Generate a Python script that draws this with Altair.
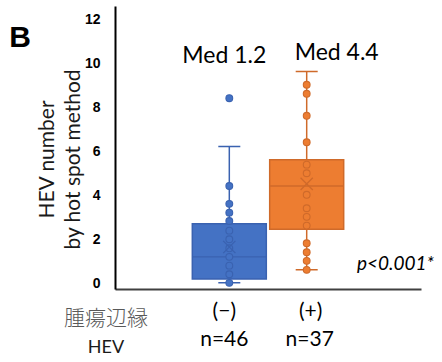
import altair as alt
import pandas as pd

# ---- data ----
groups = ["(−)", "(+)"]
group_idx = [1, 2]
n_labels = ["n=46", "n=37"]
med_labels = ["Med 1.2", "Med 4.4"]
q1 = [0.23, 2.48]
median = [1.23, 4.45]
q3 = [2.73, 5.64]
whisk_lo = [0.05, 0.64]
whisk_hi = [6.24, 9.65]
means = [1.68, 4.55]
neg_points = [8.44, 4.45, 3.64, 3.24, 2.86, 2.42, 2.03, 1.62, 1.23, 0.83, 0.44, 0.05]
pos_points = [9.05, 8.64, 7.64, 6.44, 5.42, 5.03, 4.05, 3.44, 3.05, 2.65, 1.85, 1.44, 1.05, 0.64]
y_ticks = [0, 2, 4, 6, 8, 10, 12]

summary = pd.DataFrame({
    "group": groups, "idx": group_idx, "n": n_labels, "med_label": med_labels,
    "q1": q1, "median": median, "q3": q3, "lo": whisk_lo, "hi": whisk_hi, "mean": means,
})
points = pd.DataFrame({
    "group": [groups[0]] * len(neg_points) + [groups[1]] * len(pos_points),
    "idx": [group_idx[0]] * len(neg_points) + [group_idx[1]] * len(pos_points),
    "value": neg_points + pos_points,
})

FILL = ["#4472C4", "#ED7D31"]
DARK = ["#3A62B0", "#CF6A2A"]
FONT = "Lato"

xscale = alt.Scale(domain=[-0.4125, 3.4125], nice=False, zero=False)
yscale = alt.Scale(domain=[-0.23, 12.63], nice=False, zero=False)

x_axis = alt.Axis(labels=False, ticks=False, title=None, grid=False,
                  domainColor="#404040", domainWidth=2)
y_axis = alt.Axis(values=y_ticks, ticks=False, grid=False, labelFont="Liberation Sans",
                  labelFontWeight="bold", labelFontSize=14, labelColor="#000000",
                  labelPadding=15, domainColor="#000000", domainWidth=2,
                  title=["HEV number", "by hot spot method"], titleFont=FONT,
                  titleFontSize=21, titleFontWeight="normal", titleColor="#1a1a1a",
                  titleLineHeight=26, titlePadding=1, titleY=153)

X = alt.X("idx:Q", scale=xscale, axis=x_axis)
fill = alt.Fill("group:N", scale=alt.Scale(domain=groups, range=FILL), legend=None)
stroke = alt.Stroke("group:N", scale=alt.Scale(domain=groups, range=DARK), legend=None)

base = alt.Chart(summary)

whisker = base.mark_rule(strokeWidth=1.5).encode(
    x=X, y=alt.Y("lo:Q", scale=yscale, axis=y_axis), y2="hi:Q", stroke=stroke)
cap_lo = base.mark_bar(size=22, strokeWidth=1.5).encode(
    x=X, y=alt.Y("lo:Q", scale=yscale, axis=y_axis), y2="lo:Q", stroke=stroke)
cap_hi = base.mark_bar(size=22, strokeWidth=1.5).encode(
    x=X, y=alt.Y("hi:Q", scale=yscale, axis=y_axis), y2="hi:Q", stroke=stroke)
box = base.mark_bar(size=74, strokeWidth=1.5).encode(
    x=X, y=alt.Y("q1:Q", scale=yscale, axis=y_axis), y2="q3:Q", fill=fill, stroke=stroke)
med_line = base.mark_bar(size=74, strokeWidth=1.3).encode(
    x=X, y=alt.Y("median:Q", scale=yscale, axis=y_axis), y2="median:Q", stroke=stroke)
pts = alt.Chart(points).mark_point(filled=True, size=46, strokeWidth=1.1, opacity=1).encode(
    x=X, y=alt.Y("value:Q", scale=yscale, axis=y_axis), fill=fill, stroke=stroke)
mean_x = base.mark_point(shape="M-1,-1L1,1M1,-1L-1,1", size=150, filled=False,
                         strokeWidth=1.3, opacity=1).encode(
    x=X, y=alt.Y("mean:Q", scale=yscale, axis=y_axis), stroke=stroke)


def group_text(field, idx, ypix, dx, size):
    return base.transform_filter(f"datum.idx == {idx}").mark_text(
        font=FONT, fontSize=size, color="#000000", baseline="middle", dx=dx
    ).encode(x=X, y=alt.value(ypix), text=f"{field}:N")


texts = [
    group_text("med_label", 1, 50, -5, 23),
    group_text("med_label", 2, 47, 30, 23),
    group_text("group", 1, 306, -5, 21),
    group_text("group", 2, 306, 4, 21),
    group_text("n", 1, 334, -5, 21),
    group_text("n", 2, 334, 3, 21),
]

ann = pd.DataFrame({"t": ["x"]})
letter = alt.Chart(ann).mark_text(text="B", font="Liberation Sans", fontWeight="bold",
                                  fontSize=30, color="#000000", baseline="middle",
                                  align="center").encode(x=alt.value(-95), y=alt.value(32))
tumor = alt.Chart(ann).mark_text(text="腫瘍辺縁", font="Noto Sans CJK JP", fontSize=21,
                                 fontWeight=300, color="#595959", baseline="middle",
                                 align="center").encode(x=alt.value(-9), y=alt.value(313))
hev = alt.Chart(ann).mark_text(text="HEV", font=FONT, fontSize=18, color="#1a1a1a",
                               baseline="middle", align="center").encode(
    x=alt.value(-9), y=alt.value(342))
pval = alt.Chart(ann).mark_text(text="p<0.001*", font=FONT, fontSize=19, fontStyle="italic",
                                color="#000000", baseline="middle", align="right").encode(
    x=alt.value(319), y=alt.value(258))

chart = alt.layer(
    whisker, cap_lo, cap_hi, box, med_line, pts, mean_x,
    *texts, letter, tumor, hev, pval,
).properties(
    width=306, height=283,
    padding={"left": 115, "top": 6, "right": 21, "bottom": 73},
    autosize=alt.AutoSizeParams(type="none"),
    background="white",
).configure_view(stroke=None)

chart.save("out.html", embed_options={"renderer": "svg", "actions": False})
